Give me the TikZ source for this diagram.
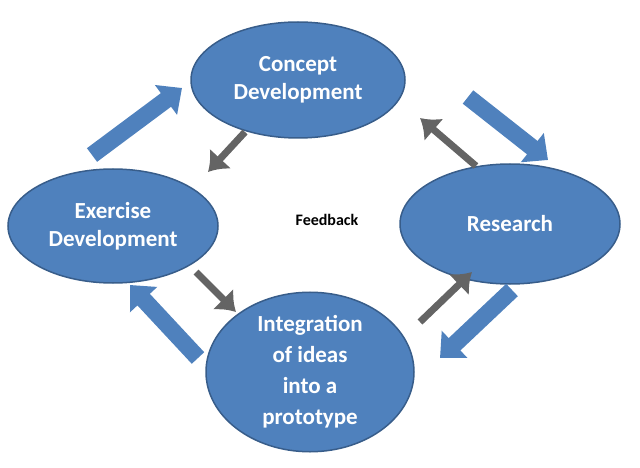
\documentclass[tikz,border=0pt]{standalone}
\usepackage{fontspec}
\setmainfont{Carlito}
\usetikzlibrary{arrows.meta,shapes.geometric}
\definecolor{cyclefill}{RGB}{79,129,189}
\definecolor{cycleedge}{RGB}{56,93,138}
\definecolor{backgray}{RGB}{100,100,100}
\begin{document}
\begin{tikzpicture}[x=1pt,y=-1pt]
        \tikzset{stage/.style = {ellipse,draw=cycleedge,line width=1.5pt,fill=cyclefill,text=white,
                font=\fontsize{23}{28}\selectfont\bfseries,align=center,inner sep=0pt}}
        \tikzset{flow/.style = {line width=17pt,draw=cyclefill,-{Triangle[length=20pt,width=36pt]}}}
        \tikzset{back/.style = {line width=7pt,draw=backgray,-{Latex[length=18pt,width=30pt]}}}
        \useasboundingbox (0,0) rectangle (640,468);

        % stages
        \node[stage, minimum width=214pt, minimum height=116pt] (concept) at (298,80) {Concept\\Development};
        \node[stage, minimum width=210pt, minimum height=114pt] (exercise) at (113,226) {Exercise\\Development};
        \node[stage, minimum width=220pt, minimum height=120pt] (research) at (510,224) {Research};
        \node[stage, minimum width=208pt, minimum height=146pt, font=\fontsize{23}{31}\selectfont\bfseries] (integration) at (310,372) {Integration\\of ideas\\into a\\prototype};
        \node[font=\fontsize{16}{19}\selectfont\bfseries] (feedback) at (327,220) {Feedback};

        % ends of the block arrows
        \coordinate (f1) at (92,155);  \coordinate (f2) at (182,88);
        \coordinate (f3) at (468,97);  \coordinate (f4) at (548,160);
        \coordinate (f5) at (512,290); \coordinate (f6) at (440,358);
        \coordinate (f7) at (198,358); \coordinate (f8) at (130,285);

        % ends of the feedback arrows
        \coordinate (b1) at (245,132); \coordinate (b2) at (208,172);
        \coordinate (b3) at (196,272); \coordinate (b4) at (236,312);
        \coordinate (b5) at (420,322); \coordinate (b6) at (472,272);
        \coordinate (b7) at (476,166); \coordinate (b8) at (420,118);

        %edges
        \draw[flow] (f1) to (f2);
        \draw[flow] (f3) to (f4);
        \draw[flow] (f5) to (f6);
        \draw[flow] (f7) to (f8);
        \draw[back] (b1) to (b2);
        \draw[back] (b3) to (b4);
        \draw[back] (b5) to (b6);
        \draw[back] (b7) to (b8);
\end{tikzpicture}
\end{document}
